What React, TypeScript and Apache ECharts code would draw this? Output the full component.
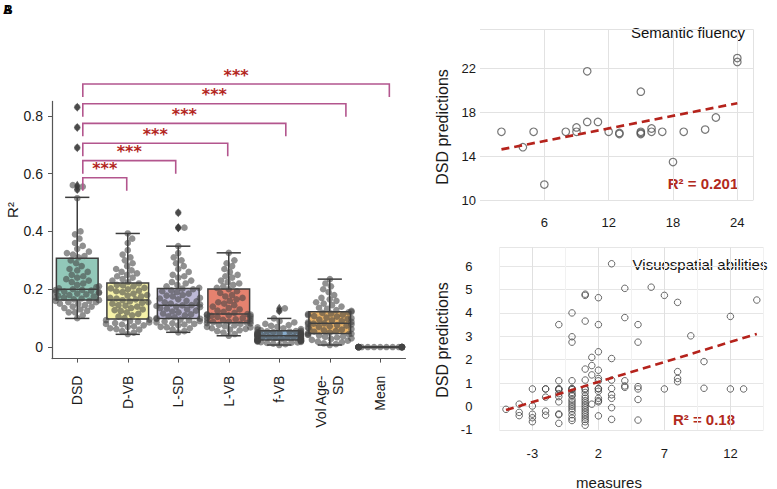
import React, { useEffect, useRef } from 'react';
import * as echarts from 'echarts';

// ---------- Panel A data ----------
const categories = ['DSD', 'D-VB', 'L-SD', 'L-VB', 'f-VB', 'Vol Age-\nSD', 'Mean'];
const boxColors = ['#92c8b9', '#f6f2a8', '#bcb8d6', '#e6826f', '#87abca', '#edb465', '#b3d67a'];
// [min, q1, median, q3, max]
const boxStats = [
  [0.099, 0.163, 0.2, 0.307, 0.518],
  [0.044, 0.097, 0.163, 0.222, 0.393],
  [0.051, 0.099, 0.145, 0.203, 0.349],
  [0.039, 0.084, 0.114, 0.201, 0.326],
  [0.007, 0.024, 0.039, 0.056, 0.099],
  [0.007, 0.047, 0.082, 0.122, 0.235],
  [0, 0, 0, 0, 0],
];
const outliers = [
  [0, 0.83], [0, 0.76], [0, 0.69], [0, 0.56], [0, 0.555], [0, 0.545],
  [2, 0.465], [2, 0.413], [2, 0.413], [4, 0.134], [4, 0.125],
];
const dsdR2 = [0.10, 0.11, 0.12, 0.125, 0.13, 0.135, 0.14, 0.14, 0.145, 0.15, 0.15, 0.155, 0.155, 0.16, 0.16, 0.162, 0.12,
  0.165, 0.168, 0.17, 0.172, 0.175, 0.178, 0.18, 0.182, 0.185, 0.187, 0.19, 0.19, 0.192, 0.195, 0.197, 0.198, 0.2,
  0.203, 0.207, 0.21, 0.215, 0.22, 0.225, 0.23, 0.235, 0.24, 0.245, 0.25, 0.26, 0.265, 0.27, 0.28, 0.29, 0.3,
  0.31, 0.315, 0.32, 0.325, 0.33, 0.34, 0.35, 0.36, 0.375, 0.39, 0.4, 0.515, 0.545, 0.555, 0.56, 0.69, 0.76, 0.83];
const dvbR2 = [0.045, 0.05, 0.055, 0.06, 0.062, 0.065, 0.07, 0.072, 0.075, 0.078, 0.08, 0.083, 0.085, 0.088, 0.09, 0.093, 0.095,
  0.1, 0.105, 0.11, 0.115, 0.12, 0.125, 0.128, 0.13, 0.135, 0.14, 0.143, 0.145, 0.15, 0.153, 0.155, 0.158, 0.162,
  0.165, 0.168, 0.17, 0.175, 0.178, 0.18, 0.185, 0.19, 0.193, 0.195, 0.2, 0.203, 0.205, 0.21, 0.213, 0.215, 0.22,
  0.225, 0.23, 0.235, 0.24, 0.245, 0.25, 0.255, 0.26, 0.265, 0.27, 0.28, 0.29, 0.3, 0.31, 0.32, 0.335, 0.36, 0.375, 0.393];
const lsdR2 = [0.051, 0.055, 0.06, 0.065, 0.068, 0.07, 0.075, 0.078, 0.08, 0.082, 0.085, 0.088, 0.09, 0.092, 0.095, 0.097, 0.098,
  0.1, 0.103, 0.106, 0.11, 0.113, 0.116, 0.12, 0.123, 0.126, 0.13, 0.133, 0.135, 0.138, 0.14, 0.142, 0.144, 0.145,
  0.148, 0.15, 0.155, 0.158, 0.16, 0.165, 0.168, 0.17, 0.175, 0.178, 0.18, 0.185, 0.19, 0.193, 0.196, 0.2, 0.202,
  0.205, 0.21, 0.215, 0.22, 0.225, 0.23, 0.24, 0.245, 0.25, 0.26, 0.27, 0.28, 0.29, 0.3, 0.31, 0.325, 0.349, 0.413, 0.413, 0.465];
const lvbR2 = [0.039, 0.045, 0.05, 0.055, 0.058, 0.06, 0.063, 0.065, 0.068, 0.07, 0.072, 0.075, 0.077, 0.08, 0.082, 0.083, 0.084,
  0.086, 0.088, 0.09, 0.092, 0.094, 0.096, 0.098, 0.1, 0.102, 0.104, 0.106, 0.108, 0.11, 0.111, 0.112, 0.113, 0.114,
  0.118, 0.122, 0.126, 0.13, 0.135, 0.14, 0.145, 0.15, 0.155, 0.16, 0.165, 0.17, 0.175, 0.18, 0.187, 0.193, 0.2,
  0.205, 0.21, 0.215, 0.22, 0.225, 0.23, 0.24, 0.245, 0.25, 0.26, 0.27, 0.28, 0.29, 0.3, 0.326];
const fvbR2 = [0.007, 0.01, 0.012, 0.014, 0.015, 0.016, 0.017, 0.018, 0.019, 0.02, 0.021, 0.022, 0.022, 0.023, 0.023, 0.024, 0.024,
  0.025, 0.026, 0.027, 0.028, 0.029, 0.03, 0.031, 0.032, 0.033, 0.034, 0.035, 0.035, 0.036, 0.037, 0.037, 0.038, 0.039,
  0.04, 0.041, 0.042, 0.043, 0.044, 0.045, 0.046, 0.047, 0.048, 0.049, 0.05, 0.051, 0.052, 0.053, 0.054, 0.055, 0.056,
  0.058, 0.06, 0.062, 0.065, 0.068, 0.07, 0.073, 0.076, 0.08, 0.085, 0.09, 0.099, 0.125, 0.134];
const volR2 = [0.007, 0.01, 0.013, 0.016, 0.019, 0.022, 0.025, 0.028, 0.03, 0.033, 0.035, 0.037, 0.04, 0.042, 0.044, 0.045, 0.046,
  0.048, 0.05, 0.053, 0.055, 0.058, 0.06, 0.062, 0.065, 0.067, 0.07, 0.072, 0.074, 0.076, 0.078, 0.08, 0.081, 0.082,
  0.085, 0.087, 0.09, 0.092, 0.095, 0.097, 0.1, 0.102, 0.105, 0.107, 0.11, 0.112, 0.114, 0.116, 0.118, 0.12, 0.122,
  0.125, 0.128, 0.132, 0.136, 0.14, 0.145, 0.15, 0.155, 0.16, 0.165, 0.17, 0.18, 0.19, 0.2, 0.21, 0.22, 0.235];
const meanR2 = [0, 0, 0, 0, 0, 0, 0, 0, 0, 0, 0, 0, 0, 0, 0, 0, 0, 0, 0, 0, 0, 0, 0, 0];
const groups = [dsdR2, dvbR2, lsdR2, lvbR2, fvbR2, volR2, meanR2];
// significance brackets: [left x, right x, height] (x in category units)
const bracketLeft = [0.11, 0.11, 0.11, 0.11, 0.11, 0.11];
const bracketRight = [0.98, 1.95, 2.98, 4.13, 5.32, 6.18];
const bracketHeight = [0.586, 0.645, 0.705, 0.774, 0.842, 0.91];
const bracketLabel = ['***', '***', '***', '***', '***', '***'];

// ---------- Panel B: Semantic fluency ----------
const semX = [2, 4, 5, 6, 8, 9, 9, 10, 10, 11, 12, 13, 13, 15, 15, 15, 15, 16, 16, 17, 18, 19, 21, 22, 24, 24];
const semY = [16.2, 14.8, 16.2, 11.4, 16.2, 16.6, 16.2, 21.7, 17.1, 17.1, 16.2, 16.1, 16.0, 19.85, 16.2, 16.1, 16.0, 16.5, 16.2, 16.2, 13.45, 16.2, 16.4, 17.5, 22.9, 22.55];
const semFitX = [2, 24];
const semFitY = [14.6, 18.8];
const semR2 = '0.201';

// ---------- Panel B: Visuospatial abilities ----------
const visX = [
  -5,
  -4, -4, -4,
  -3, -3, -3, -3, -3,
  -2, -2, -2, -2, -2,
  -1, -1, -1, -1, -1, -1, -1, -1, -1, -1, -1,
  0, 0, 0, 0, 0, 0, 0, 0, 0, 0, 0, 0, 0, 0, 0, 0, 0, 0, 0,
  1, 1, 1, 1, 1, 1, 1, 1, 1, 1, 1, 1, 1, 1, 1, 1, 1, 1, 1, 1, 1,
  1.5, 1.5, 1.5, 1.5,
  2, 2, 2, 2, 2, 2, 2, 2, 2, 2, 2, 2, 2,
  3, 3, 3, 3, 3, 3, 3, 3,
  4, 4, 4, 4, 4,
  5, 5, 5, 5, 5, 5,
  6, 7, 7, 8, 8, 8, 8, 9, 10, 10, 12, 12, 13, 14,
];
const visY = [
  -0.12,
  0.1, -0.25, -0.39,
  0.75, 0.02, -0.33, -0.48, -0.65,
  0.75, 0.75, 0.4, -0.2, -0.37,
  3.5, 1.1, 0.75, 0.75, 0.72, 0.55, 0.42, 0.2, -0.32, -0.35, -0.72,
  4.0, 2.98, 2.75, 1.1, 0.77, 0.75, 0.72, 0.6, 0.5, 0.45, 0.3, 0.2, 0.1, 0, -0.1, -0.2, -0.35, -0.5, -0.6,
  4.8, 4.75, 3.65, 1.6, 1.13, 0.77, 0.72, 0.6, 0.45, 0.35, 0.25, 0.15, 0.05, -0.05, -0.15, -0.25, -0.35, -0.45, -0.55, -0.65, -0.8,
  2.1, 1.75, 1.35, 0.1,
  4.65, 3.5, 2.34, 1.55, 1.2, 1.1, 0.77, 0.75, 0.65, 0.35, 0.25, 0.2, -0.4,
  6.1, 2.05, 1.13, 0.77, 0.5, 0.35, -0.05, -0.55,
  5.05, 3.8, 1.1, 0.88, 0.82,
  3.5, 2.75, 0.85, 0.75, 0.3, -0.58,
  5.1, 4.75, 0.75, 4.45, 1.49, 1.2, 1.06, 3.02, 1.92, 0.78, 3.85, 0.75, 0.75, 4.55,
];
const visFitX = [-5, 14];
const visFitY = [-0.15, 3.1];
const visR2 = '0.18';

const FONT = 'Liberation Sans, Arial, Helvetica, sans-serif';

// beeswarm layout (pixel space), returns offsets in category units
function swarmOffsets(values: number[], pxY: number, pxX: number, d: number, maxOff: number) {
  const order = values.map((_, i) => i).sort((a, b) => values[a] - values[b]);
  const placed: { x: number; y: number }[] = [];
  const out: number[] = new Array(values.length).fill(0);
  for (const i of order) {
    const y = values[i] * pxY;
    const near = placed.filter((p) => Math.abs(p.y - y) < d);
    const cands = [0];
    for (const p of near) {
      const dx = Math.sqrt(d * d - (p.y - y) * (p.y - y));
      cands.push(p.x + dx, p.x - dx);
    }
    cands.sort((a, b) => Math.abs(a) - Math.abs(b));
    let chosen = 0;
    for (const c of cands) {
      if (near.every((p) => (p.x - c) ** 2 + (p.y - y) ** 2 >= d * d - 1e-6)) {
        chosen = c;
        break;
      }
    }
    placed.push({ x: chosen, y });
    out[i] = Math.max(-maxOff, Math.min(maxOff, chosen)) / pxX;
  }
  return out;
}

export default function App() {
  const ref = useRef<HTMLDivElement>(null);
  useEffect(() => {
    if (!ref.current) return;
    const chart = echarts.init(ref.current, undefined, { renderer: 'svg' });

    const leftGrid = { left: 52, top: 101.4, width: 353.5, height: 257.2 };
    const pxY = leftGrid.height / 0.89;
    const pxX = leftGrid.width / 7;
    const swarmData: number[][] = [];
    groups.forEach((vals, gi) => {
      const offs = swarmOffsets(vals, pxY, pxX, 6.2, 0.43 * pxX);
      vals.forEach((v, k) => swarmData.push([gi + offs[k], v]));
    });
    const boxData = boxStats.map((s, i) => [i, ...s]);
    const bracketData = bracketLeft.map((l, i) => [l, bracketRight[i], bracketHeight[i], i]);

    const semGrid = { left: 480, top: 29.5, width: 273.4, height: 170.5 };
    const visGrid = { left: 499.4, top: 247.4, width: 264, height: 182.5 };

    const tickLabel = { color: '#1a1a1a', fontSize: 13, fontFamily: FONT };

    const option: any = {
      animation: false,
      grid: [
        { ...leftGrid },
        { ...semGrid },
        { ...visGrid },
      ],
      xAxis: [
        {
          type: 'category', gridIndex: 0, data: categories,
          axisLine: { onZero: false, lineStyle: { color: '#555', width: 1.2 } },
          axisTick: { show: true, alignWithLabel: true, length: 4, lineStyle: { color: '#555' } },
          axisLabel: { rotate: 90, margin: 17, fontSize: 14, color: '#1a1a1a', fontFamily: FONT, interval: 0, lineHeight: 17 },
          splitLine: { show: false },
        },
        { type: 'value', gridIndex: 0, min: -0.5, max: 6.5, show: false, axisLine: { onZero: false } },
        {
          type: 'value', gridIndex: 1, min: 0, max: 25.5, interval: 6,
          axisLine: { show: false, onZero: false }, axisTick: { show: false },
          axisLabel: { ...tickLabel, margin: 16, showMaxLabel: false, formatter: (v: number) => (v === 0 ? '' : String(v)) },
          splitLine: { show: true, showMinLine: false, lineStyle: { color: '#e2e2e2', width: 1 } },
        },
        {
          type: 'value', gridIndex: 2, min: -5.5, max: 14.5, interval: 2.5,
          axisLine: { show: false, onZero: false }, axisTick: { show: false },
          axisLabel: {
            ...tickLabel, margin: 17,
            formatter: (v: number) => (Math.abs(((v + 3) % 5 + 5) % 5) < 1e-6 ? String(v) : ''),
          },
          splitLine: { show: true, lineStyle: { color: ['#f1f1f1', '#e0e0e0'], width: 1 } },
        },
      ],
      yAxis: [
        {
          type: 'value', gridIndex: 0, min: -0.04, max: 0.85,
          axisLine: { show: true, onZero: false, lineStyle: { color: '#555', width: 1.2 } },
          axisTick: { show: true, length: 4, lineStyle: { color: '#555' }, customValues: [0, 0.2, 0.4, 0.6, 0.8] },
          axisLabel: {
            fontSize: 14, color: '#1a1a1a', fontFamily: FONT, margin: 9,
            customValues: [0, 0.2, 0.4, 0.6, 0.8],
            formatter: (v: number) => (v === 0 ? '0' : v.toFixed(1)),
          },
          splitLine: { show: false },
        },
        {
          type: 'value', gridIndex: 1, min: 10, max: 25.5, interval: 4,
          axisLine: { show: false, onZero: false }, axisTick: { show: false },
          axisLabel: { ...tickLabel, margin: 4, showMaxLabel: false },
          splitLine: { show: true, lineStyle: { color: '#e2e2e2', width: 1 } },
        },
        {
          type: 'value', gridIndex: 2, min: -1, max: 6.8, interval: 1,
          axisLine: { show: false, onZero: false }, axisTick: { show: false },
          axisLabel: { ...tickLabel, margin: 27, showMaxLabel: false },
          splitLine: { show: true, lineStyle: { color: '#e6e6e6', width: 1 } },
        },
      ],
      series: [
        {
          type: 'custom', xAxisIndex: 1, yAxisIndex: 0, data: boxData, z: 2, clip: false,
          renderItem: (params: any, api: any) => {
            const i = api.value(0);
            const mn = api.value(1), q1 = api.value(2), md = api.value(3), q3 = api.value(4), mx = api.value(5);
            const band = api.size([1, 0])[0];
            const bw = band * 0.826;
            const cw = band * 0.48;
            const cx = api.coord([i, md])[0];
            const yMin = api.coord([i, mn])[1];
            const yQ1 = api.coord([i, q1])[1];
            const yMd = api.coord([i, md])[1];
            const yQ3 = api.coord([i, q3])[1];
            const yMax = api.coord([i, mx])[1];
            const ls = { stroke: '#3c3c3c', lineWidth: 1.5 };
            const ch: any[] = [
              { type: 'line', shape: { x1: cx, y1: yQ3, x2: cx, y2: yMax }, style: ls },
              { type: 'line', shape: { x1: cx, y1: yQ1, x2: cx, y2: yMin }, style: ls },
              { type: 'line', shape: { x1: cx - cw / 2, y1: yMax, x2: cx + cw / 2, y2: yMax }, style: ls },
              { type: 'line', shape: { x1: cx - cw / 2, y1: yMin, x2: cx + cw / 2, y2: yMin }, style: ls },
              { type: 'rect', shape: { x: cx - bw / 2, y: yQ3, width: bw, height: Math.max(yQ1 - yQ3, 0.5) }, style: { fill: boxColors[i], stroke: '#3c3c3c', lineWidth: 1.5 } },
              { type: 'line', shape: { x1: cx - bw / 2, y1: yMd, x2: cx + bw / 2, y2: yMd }, style: ls },
            ];
            return { type: 'group', children: ch };
          },
        },
        {
          type: 'scatter', xAxisIndex: 1, yAxisIndex: 0, data: swarmData, z: 3,
          symbolSize: 6.6, itemStyle: { color: 'rgba(68,68,68,0.74)' }, silent: true,
        },
        {
          type: 'scatter', xAxisIndex: 1, yAxisIndex: 0, data: outliers, z: 4,
          symbol: 'diamond', symbolSize: [6, 9], itemStyle: { color: '#3a3a3a' }, silent: true,
        },
        {
          type: 'custom', xAxisIndex: 1, yAxisIndex: 0, data: bracketData, z: 5, clip: false,
          renderItem: (params: any, api: any) => {
            const l = api.coord([api.value(0), api.value(2)]);
            const r = api.coord([api.value(1), api.value(2)]);
            const drop = 13;
            return {
              type: 'group',
              children: [
                {
                  type: 'polyline',
                  shape: { points: [[l[0], l[1] + drop], [l[0], l[1]], [r[0], r[1]], [r[0], r[1] + drop]] },
                  style: { stroke: '#b3568e', lineWidth: 1.6, fill: null },
                },
                {
                  type: 'text', x: (l[0] + r[0]) / 2, y: l[1] - 1,
                  style: {
                    text: bracketLabel[api.value(3)], fill: '#b3261e',
                    font: 'bold 16px DejaVu Sans', align: 'center', verticalAlign: 'bottom',
                  },
                },
              ],
            };
          },
        },
        // Semantic fluency
        {
          type: 'scatter', xAxisIndex: 2, yAxisIndex: 1, data: semX.map((x, i) => [x, semY[i]]),
          symbolSize: 7.5, itemStyle: { color: 'rgba(0,0,0,0)', borderColor: '#555', borderWidth: 1.2 }, z: 3,
        },
        {
          type: 'line', xAxisIndex: 2, yAxisIndex: 1, data: semFitX.map((x, i) => [x, semFitY[i]]),
          showSymbol: false, lineStyle: { color: '#b5231c', width: 2.6, type: [8, 5] }, z: 4,
        },
        // Visuospatial
        {
          type: 'scatter', xAxisIndex: 3, yAxisIndex: 2, data: visX.map((x, i) => [x, visY[i]]),
          symbolSize: 6.5, itemStyle: { color: 'rgba(0,0,0,0)', borderColor: '#444', borderWidth: 1 }, z: 3,
        },
        {
          type: 'line', xAxisIndex: 3, yAxisIndex: 2, data: visFitX.map((x, i) => [x, visFitY[i]]),
          showSymbol: false, lineStyle: { color: '#b5231c', width: 2.6, type: [8, 5] }, z: 4,
        },
      ],
      graphic: [
        { type: 'text', left: 3, top: 4, style: { text: 'A', font: 'bold 12px ' + FONT, fill: '#000' } },
        { type: 'text', left: 4, top: 4, style: { text: 'B', font: 'bold 12px ' + FONT, fill: '#000' } },
        {
          type: 'text', x: 12, y: 210, rotation: Math.PI / 2,
          style: { text: 'R²', font: '15px ' + FONT, fill: '#1a1a1a', align: 'center', verticalAlign: 'middle' },
        },
        {
          type: 'text', x: 442, y: 127, rotation: Math.PI / 2,
          style: { text: 'DSD predictions', font: '16px ' + FONT, fill: '#1a1a1a', align: 'center', verticalAlign: 'middle' },
        },
        {
          type: 'text', x: 442, y: 340, rotation: Math.PI / 2,
          style: { text: 'DSD predictions', font: '16px ' + FONT, fill: '#1a1a1a', align: 'center', verticalAlign: 'middle' },
        },
        {
          type: 'text', x: 609, y: 482,
          style: { text: 'measures', font: '15px ' + FONT, fill: '#1a1a1a', align: 'center', verticalAlign: 'middle' },
        },
        {
          type: 'text', x: 688, y: 32,
          style: { text: 'Semantic fluency', font: '15px ' + FONT, fill: '#111', align: 'center', verticalAlign: 'middle' },
        },
        {
          type: 'text', x: 700, y: 264,
          style: { text: 'Visuospatial abilities', font: '15px ' + FONT, fill: '#111', align: 'center', verticalAlign: 'middle' },
        },
        {
          type: 'text', x: 703, y: 183,
          style: { text: 'R² = ' + semR2, font: 'bold 15px ' + FONT, fill: '#b22a1d', align: 'center', verticalAlign: 'middle' },
        },
        {
          type: 'text', x: 704, y: 419,
          style: { text: 'R² = ' + visR2, font: 'bold 15px ' + FONT, fill: '#b22a1d', align: 'center', verticalAlign: 'middle' },
        },
      ],
    };
    chart.setOption(option);
    return () => chart.dispose();
  }, []);
  return <div ref={ref} style={{ position: 'fixed', left: 0, top: 0, width: 777, height: 489, background: '#fff' }} />;
}
